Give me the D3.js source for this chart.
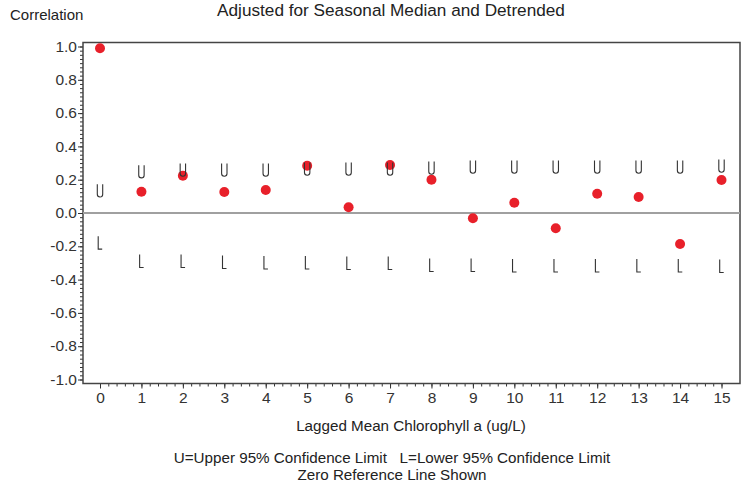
<!DOCTYPE html>
<html>
<head>
<meta charset="utf-8">
<script src="https://cdn.jsdelivr.net/npm/d3@7"></script>
<style>
  body { margin: 0; background: #fff; }
  text { font-family: "Liberation Sans", Arial, sans-serif; fill: #222; }
</style>
</head>
<body>
<div id="chart"></div>
<script>
// lag 0..15, correlation and 95% limits
const lags = d3.range(0, 16);
const corr = [0.99, 0.128, 0.224, 0.126, 0.138, 0.284, 0.034, 0.288, 0.2, -0.032, 0.062, -0.092, 0.116, 0.096, -0.186, 0.198];
const upper = [0.133, 0.248, 0.258, 0.258, 0.258, 0.264, 0.264, 0.264, 0.27, 0.276, 0.276, 0.276, 0.276, 0.276, 0.276, 0.282];
const lower = [-0.178, -0.288, -0.288, -0.294, -0.297, -0.297, -0.3, -0.3, -0.312, -0.312, -0.315, -0.315, -0.315, -0.315, -0.315, -0.318];
const yTicks = [-1, -0.8, -0.6, -0.4, -0.2, 0, 0.2, 0.4, 0.6, 0.8, 1];

const W = 751, H = 485;
const frame = {left: 83, right: 740, top: 42.5, bottom: 383.5};

let svg = d3.select("#chart").append("svg")
    .attr("width", W).attr("height", H);

let x = d3.scaleLinear().domain([0, 15]).range([100, 721.5]);
let y = d3.scaleLinear().domain([-1, 1]).range([379.5, 46.5]);

const fmt = v => d3.format(".1f")(v).replace("\u2212", "-");

// y axis minor ticks
let yMinor = d3.range(-1, 1.0001, 0.025);
svg.append("g")
    .attr("transform", `translate(${frame.left},0)`)
    .call(d3.axisLeft(y).tickValues(yMinor).tickSize(3).tickFormat(""))
    .call(g => g.select(".domain").remove())
    .call(g => g.selectAll("line").attr("stroke", "#333"));

// y axis major
svg.append("g")
    .attr("transform", `translate(${frame.left},0)`)
    .call(d3.axisLeft(y).tickValues(yTicks).tickSize(5).tickPadding(1).tickFormat(fmt))
    .call(g => g.select(".domain").remove())
    .call(g => g.selectAll("line").attr("stroke", "#333"))
    .call(g => g.selectAll("text").attr("font-size", 15.5).attr("dy", "0.3em").style("fill", "#333")
        .attr("font-family", "Liberation Sans, Arial, sans-serif"));

// x axis minor ticks
let xMinor = d3.range(0, 15.0001, 0.2);
svg.append("g")
    .attr("transform", `translate(0,${frame.bottom})`)
    .call(d3.axisBottom(x).tickValues(xMinor).tickSize(3).tickFormat(""))
    .call(g => g.select(".domain").remove())
    .call(g => g.selectAll("line").attr("stroke", "#333"));

// x axis major
svg.append("g")
    .attr("transform", `translate(0,${frame.bottom})`)
    .call(d3.axisBottom(x).tickValues(lags).tickSize(5).tickPadding(3).tickFormat(d3.format("d")))
    .call(g => g.select(".domain").remove())
    .call(g => g.selectAll("line").attr("stroke", "#333"))
    .call(g => g.selectAll("text").attr("font-size", 15.5).style("fill", "#333")
        .attr("font-family", "Liberation Sans, Arial, sans-serif"));

// frame
svg.append("rect")
    .attr("x", frame.left).attr("y", frame.top)
    .attr("width", frame.right - frame.left)
    .attr("height", frame.bottom - frame.top)
    .attr("fill", "none").attr("stroke", "#444").attr("stroke-width", 1.5);

// zero reference line
svg.append("line")
    .attr("x1", frame.left).attr("x2", frame.right)
    .attr("y1", y(0)).attr("y2", y(0))
    .attr("stroke", "#a0a0a0").attr("stroke-width", 1.8);

// correlation points
svg.append("g")
    .selectAll("circle")
    .data(lags)
    .enter()
    .append("circle")
        .attr("cx", d => x(d))
        .attr("cy", d => y(corr[d]))
        .attr("r", 5)
        .attr("fill", "#e8202a");

// U / L glyphs for the limits
const uPath = "M-2.7,-6.5 L-2.7,3.5 A2.7,2.7 0 0 0 2.7,3.5 L2.7,-6.5";
const lPath = "M-1.8,-6.5 L-1.8,6.5 L2.2,6.5";

svg.append("g")
    .selectAll("path")
    .data(lags)
    .enter()
    .append("path")
        .attr("transform", d => `translate(${x(d)},${y(upper[d])})`)
        .attr("d", uPath)
        .attr("fill", "none").attr("stroke", "#333").attr("stroke-width", 1.1);

svg.append("g")
    .selectAll("path")
    .data(lags)
    .enter()
    .append("path")
        .attr("transform", d => `translate(${x(d)},${y(lower[d])})`)
        .attr("d", lPath)
        .attr("fill", "none").attr("stroke", "#333").attr("stroke-width", 1.1);

// texts
svg.append("text")
    .attr("x", 10).attr("y", 20)
    .attr("font-size", 15)
    .text("Correlation");

svg.append("text")
    .attr("x", 391).attr("y", 16)
    .attr("text-anchor", "middle")
    .attr("font-size", 17.2)
    .text("Adjusted for Seasonal Median and Detrended");

svg.append("text")
    .attr("x", 411).attr("y", 431)
    .attr("text-anchor", "middle")
    .attr("font-size", 15.2)
    .text("Lagged Mean Chlorophyll a (ug/L)");

svg.append("text")
    .attr("x", 392).attr("y", 463)
    .attr("text-anchor", "middle")
    .attr("font-size", 15.2)
    .attr("xml:space", "preserve")
    .text("U=Upper 95% Confidence Limit   L=Lower 95% Confidence Limit");

svg.append("text")
    .attr("x", 392).attr("y", 480)
    .attr("text-anchor", "middle")
    .attr("font-size", 15.2)
    .text("Zero Reference Line Shown");
</script>
</body>
</html>
